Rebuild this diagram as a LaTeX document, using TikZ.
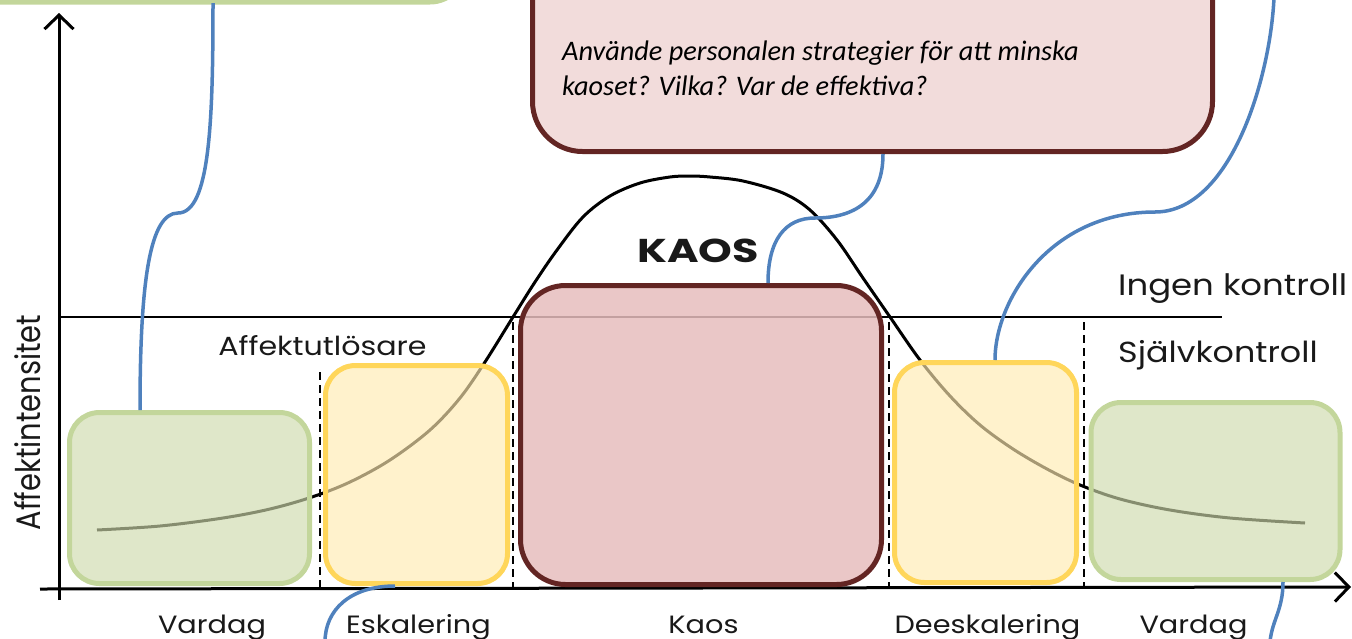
\documentclass[tikz,border=0pt]{standalone}
\usepackage{fontspec}
\setmainfont{Poppins}
\newfontfamily\labfont{Poppins}[FakeStretch=1.15]
\newfontfamily\kaosfont{Poppins}[FakeStretch=1.3]
\newfontfamily\ylfont{Poppins}[FakeStretch=0.85]
\newfontfamily\callfont{Carlito}
\usetikzlibrary{arrows.meta}
\definecolor{bluec}{RGB}{79,129,189}
\definecolor{greenF}{RGB}{206,218,172}
\definecolor{greenB}{RGB}{195,214,155}
\definecolor{yelF}{RGB}{255,235,177}
\definecolor{yelB}{RGB}{255,214,90}
\definecolor{redF}{RGB}{230,189,189}
\definecolor{maroonc}{RGB}{99,37,35}
\definecolor{pinkF}{RGB}{242,220,219}
\definecolor{tlF}{RGB}{223,231,201}
\begin{document}
\begin{tikzpicture}[x=1pt,y=-1pt,
  boxbase/.style={rectangle, inner sep=0pt, line width=5pt},
  gbox/.style={boxbase, draw=greenB, fill=greenF, fill opacity=0.65, draw opacity=1, rounded corners=30},
  ybox/.style={boxbase, draw=yelB, fill=yelF, fill opacity=0.65, draw opacity=1, rounded corners=30},
  rbox/.style={boxbase, draw=maroonc, fill=redF, fill opacity=0.85, draw opacity=1, rounded corners=45},
  conn/.style={draw=bluec, line width=3.5pt},
  axis/.style={line width=3pt, -{Straight Barb[length=14pt,width=29pt,line width=3pt]}},
  dashv/.style={line width=2.5pt, dash pattern=on 8pt off 5pt},
  lab/.style={inner sep=0pt, anchor=base, font=\labfont\fontsize{25}{30}\selectfont, text=black!90},
  biglab/.style={lab, anchor=base west, font=\labfont\fontsize{29.5}{34}\selectfont},
]
\useasboundingbox (0,0) rectangle (1352,638);
% top left callout (partly visible)
\node[boxbase, draw=greenB, fill=tlF, rounded corners=35, minimum width=520, minimum height=160] (tl) at (205,-78) {};
% top callout
\node[boxbase, draw=maroonc, fill=pinkF, rounded corners=50, minimum width=680, minimum height=240] (tc) at (872.5,31.5) {};
\node[inner sep=0pt, anchor=base west, align=left, font=\callfont\itshape\fontsize{28.3}{35}\selectfont] (qtext) at (562,95) {Använde personalen strategier för att minska\\kaoset? Vilka? Var de effektiva?};
% axes
\coordinate (yb) at (59,600);
\coordinate (yt) at (59,13);
\coordinate (xl) at (40,589);
\coordinate (xr) at (1351,587);
\draw[axis] (yb) -- (yt);
\draw[axis] (xl) -- (xr);
% threshold
\coordinate (thl) at (59,317);
\coordinate (thr) at (1222,317);
\draw[line width=2.5pt] (thl) -- (thr);
% dashed separators
\coordinate (d1t) at (320,372); \coordinate (d1b) at (320,589);
\coordinate (d2t) at (513,322); \coordinate (d2b) at (513,589);
\coordinate (d3t) at (889,322); \coordinate (d3b) at (889,589);
\coordinate (d4t) at (1084,322); \coordinate (d4b) at (1084,589);
\draw[dashv] (d1t) -- (d1b);
\draw[dashv] (d2t) -- (d2b);
\draw[dashv] (d3t) -- (d3b);
\draw[dashv] (d4t) -- (d4b);
% curve
\draw[line width=3pt] plot[smooth, tension=0.55] coordinates {(97,530) (160,526) (223,518) (270,509) (312,497) (350,482) (390,460) (430,430) (460,398) (485,362) (513,317) (535,282) (557,250) (583,217) (610,196) (640,183) (670,177) (690,176) (710,177) (743,181) (783,193) (810,210) (837,240) (863,278) (890,317) (920,360) (950,396) (980,425) (1013,449) (1047,469) (1080,485) (1120,499) (1170,510) (1230,518) (1305,523)};
% boxes
\node[gbox, minimum width=240, minimum height=171] (lg) at (189.5,498) {};
\node[ybox, minimum width=182, minimum height=218] (ly) at (416.5,474.5) {};
\node[rbox, minimum width=361, minimum height=299] (kr) at (701,435) {};
\node[ybox, minimum width=182, minimum height=220] (ry) at (985.5,472.5) {};
\node[gbox, minimum width=249, minimum height=177] (rg) at (1215.5,491) {};
% connectors
\coordinate (tlEnd) at (213,3);
\coordinate (trEnd) at (1274,-2);
\coordinate (blEnd) at (325,642);
\coordinate (brEnd) at (1270,642);
\draw[conn] ([xshift=-49.5]lg.north) .. controls (140,280) and (150,213) .. (178,213) .. controls (210,213) and (213,120) .. (tlEnd);
\draw[conn] ([xshift=-21.5]ly.south) .. controls (350,586) and (325,610) .. (blEnd);
\draw[conn] ([xshift=67]kr.north) .. controls (768,240) and (785,218) .. (815,218) .. controls (855,218) and (883,200) .. ([xshift=10.5]tc.south);
\draw[conn] ([xshift=9.5]ry.north) .. controls (995,300) and (1050,212) .. (1155,212) .. controls (1230,212) and (1270,80) .. (trEnd);
\draw[conn] ([xshift=67.5]rg.south) .. controls (1283,610) and (1272,620) .. (brEnd);
% labels
\node[lab, font=\kaosfont\bfseries\fontsize{33}{38}\selectfont] (kaos) at (698,262) {KAOS};
\node[lab, font=\labfont\fontsize{26.2}{30}\selectfont] (aff) at (322.5,355) {Affektutlösare};
\node[biglab] (ingen) at (1118,295) {Ingen kontroll};
\node[biglab, font=\labfont\fontsize{29}{34}\selectfont] (sjalv) at (1118,362) {Självkontroll};
\node[lab, rotate=90, font=\ylfont\fontsize{34}{38}\selectfont] (yl) at (40,422.5) {Affektintensitet};
\node[lab] (v1) at (212,633) {Vardag};
\node[lab] (esk) at (418.5,633) {Eskalering};
\node[lab] (kao) at (703.5,633) {Kaos};
\node[lab] (dee) at (987.5,633) {Deeskalering};
\node[lab] (v2) at (1193.5,633) {Vardag};
\end{tikzpicture}
\end{document}
